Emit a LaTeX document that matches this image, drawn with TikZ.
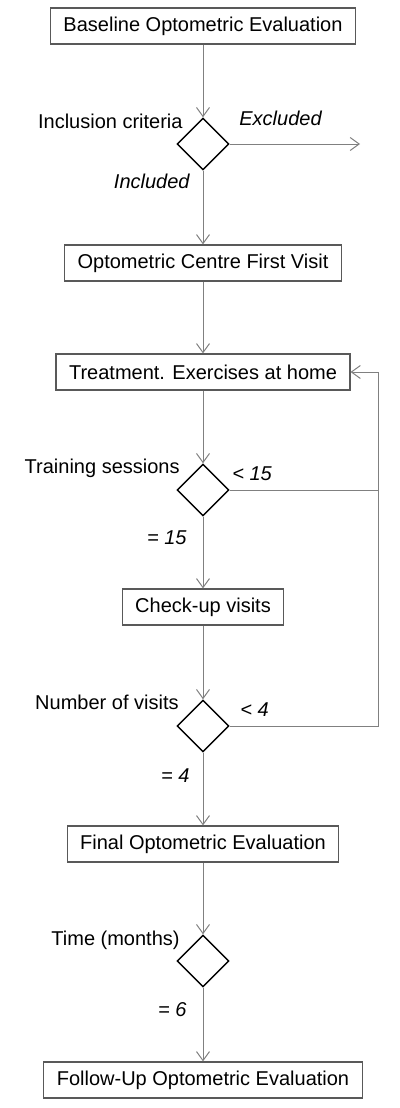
\documentclass[tikz,border=0pt]{standalone}
\usepackage{fontspec}
\setmainfont{Liberation Sans}
\usetikzlibrary{shapes.geometric,arrows.meta}

\tikzset{
  stage/.style={draw=black!65,line width=0.6pt,minimum height=18pt,inner xsep=6.5pt,inner ysep=0pt},
  decision/.style={diamond,draw=black,line width=0.7pt,minimum width=26pt,minimum height=26pt,inner sep=0pt},
  note/.style={inner sep=0pt},
  cond/.style={note,font=\itshape},
  flow/.style={draw=black!50,line width=0.5pt},
  flowarr/.style={flow,-{Straight Barb[length=4.5pt,width=6.5pt,line width=0.5pt]}}
}

\begin{document}
\begin{tikzpicture}[x=0.5pt,y=-0.5pt,font=\fontsize{10}{12}\selectfont]
\useasboundingbox (0,0) rectangle (400,1108);
%\def\cx{203}
\path
(203,26) node[stage] (base) {Baseline Optometric Evaluation}
(203,144) node[decision] (incl) {}
(183,121) node[note,anchor=east] (incllab) {Inclusion criteria}
(239,118) node[cond,anchor=west] (excl) {Excluded}
(190,181) node[cond,anchor=east] (inyes) {Included}
(203,263) node[stage] (first) {Optometric Centre First Visit}
(203,372) node[stage] (treat) {Treatment. Exercises at home}
(203,490) node[decision] (sess) {}
(180,468) node[note,anchor=east] (sesslab) {Training sessions}
(232,474) node[cond,anchor=west] (sessno) {< 15}
(187,538) node[cond,anchor=east] (sessyes) {= 15}
(203,607) node[stage] (check) {Check-up visits}
(203,726) node[decision] (visits) {}
(179,702) node[note,anchor=east] (visitslab) {Number of visits}
(240,710) node[cond,anchor=west] (visitsno) {< 4}
(190,776) node[cond,anchor=east] (visitsyes) {= 4}
(203,844) node[stage] (final) {Final Optometric Evaluation}
(203,961) node[decision] (time) {}
(180,940) node[note,anchor=east] (timelab) {Time (months)}
(187,1010) node[cond,anchor=east] (timeyes) {= 6}
(203,1080) node[stage] (follow) {Follow-Up Optometric Evaluation};
\coordinate (out) at (360,144);
\coordinate (back) at (378,372);
\draw[flowarr] (base) -- (incl);
\draw[flowarr] (incl) -- (out);
\draw[flowarr] (incl) -- (first);
\draw[flowarr] (first) -- (treat);
\draw[flowarr] (treat) -- (sess);
\draw[flowarr] (sess) -- (check);
\draw[flowarr] (check) -- (visits);
\draw[flowarr] (visits) -- (final);
\draw[flowarr] (final) -- (time);
\draw[flowarr] (time) -- (follow);
% loop back to treatment
\draw[flow] (sess.east) -- (back |- sess.east);
\draw[flowarr] (visits.east) -| (back) -- (treat.east);
\end{tikzpicture}
\end{document}
